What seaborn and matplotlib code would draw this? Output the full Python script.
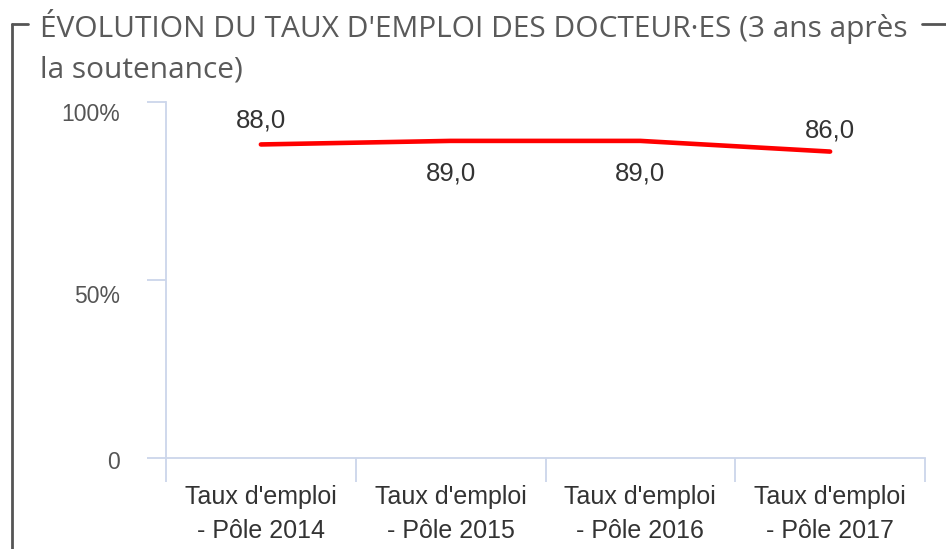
import matplotlib
matplotlib.use("Agg")
import matplotlib.pyplot as plt
import matplotlib.transforms as mtrans
from matplotlib.lines import Line2D
from matplotlib.ticker import FixedLocator
import seaborn as sns
import pandas as pd

# ---- data ----
categories = ["Taux d'emploi\n- Pôle 2014", "Taux d'emploi\n- Pôle 2015",
              "Taux d'emploi\n- Pôle 2016", "Taux d'emploi\n- Pôle 2017"]
values = [88.0, 89.0, 89.0, 86.0]
ytick_values = [0, 50, 100]
ytick_labels = ["0", "50%", "100%"]
title_lines = ["ÉVOLUTION DU TAUX D'EMPLOI DES DOCTEUR·ES (3 ans après",
               "la soutenance)"]

# ---- style ----
label_offsets_pt = [17, -23.5, -23.5, 15.5]
ylabel_shift_px = [2, 14, 10]
axis_color = "#ccd6eb"

sns.set_theme(style="white")
plt.rcParams["font.family"] = ["Liberation Sans", "DejaVu Sans"]

W, H = 946, 549
fig = plt.figure(figsize=(W / 100, H / 100), dpi=100)
ax = fig.add_axes([166 / W, (H - 458) / H, (925 - 166) / W, (458 - 101.7) / H])

df = pd.DataFrame({"cat": categories, "val": values})
sns.lineplot(data=df, x="cat", y="val", sort=False, color="#ff0000",
             linewidth=3.3, ax=ax, solid_capstyle="round")

ax.set_xlim(-0.5, len(categories) - 0.5)
ax.set_ylim(0, 100)
ax.set_xlabel("")
ax.set_ylabel("")
ax.set_facecolor("white")
for s in ["top", "right"]:
    ax.spines[s].set_visible(False)
for s in ["left", "bottom"]:
    ax.spines[s].set_color(axis_color)
    ax.spines[s].set_linewidth(1.3)

ax.set_xticks(range(len(categories)))
ax.set_xticklabels(categories, fontsize=18, color="#333333", linespacing=1.5)
ax.xaxis.set_minor_locator(FixedLocator([i - 0.5 for i in range(len(categories) + 1)]))
ax.tick_params(axis="x", which="major", length=0, pad=19.5)
ax.tick_params(axis="x", which="minor", length=17, width=1.3, color=axis_color,
               direction="out", bottom=True)

ax.set_yticks(ytick_values)
ax.set_yticklabels(ytick_labels, fontsize=16.5, color="#555555")
ax.tick_params(axis="y", which="major", length=13.7, width=1.3, color=axis_color,
               direction="out", left=True, pad=19.5)
for lbl, sh in zip(ax.get_yticklabels(), ylabel_shift_px):
    lbl.set_transform(lbl.get_transform() +
                      mtrans.ScaledTranslation(0, -sh / 100, fig.dpi_scale_trans))

for i, (v, off) in enumerate(zip(values, label_offsets_pt)):
    ax.annotate(f"{v:.1f}".replace(".", ","), (i, v), xytext=(0, off),
                textcoords="offset points", ha="center", va="center",
                fontsize=18.5, color="#333333")

# ---- title ----
tfam = ["Liberation Sans Narrow", "Open Sans", "DejaVu Sans"]
t1 = fig.text(40 / W, 1 - 37 / H, title_lines[0], fontsize=22, color="#5a5a5a",
              family=tfam, va="baseline", ha="left")
t2 = fig.text(40 / W, 1 - 78 / H, title_lines[1], fontsize=22, color="#5a5a5a",
              family=tfam, va="baseline", ha="left")
fig.canvas.draw()
w = t1.get_window_extent().width
fs = 22 * 867 / w
t1.set_fontsize(fs)
t2.set_fontsize(fs)

# ---- fieldset border ----
bc = "#555555"
fig.add_artist(Line2D([12 / W, 12 / W], [1 - 24 / H, 0], transform=fig.transFigure,
                      color=bc, lw=2))
fig.add_artist(Line2D([12 / W, 28 / W], [1 - 24 / H, 1 - 24 / H], transform=fig.transFigure,
                      color=bc, lw=2))
fig.add_artist(Line2D([922 / W, 946 / W], [1 - 24 / H, 1 - 24 / H], transform=fig.transFigure,
                      color=bc, lw=2))

fig.savefig("out.png", dpi=100, facecolor="white")
